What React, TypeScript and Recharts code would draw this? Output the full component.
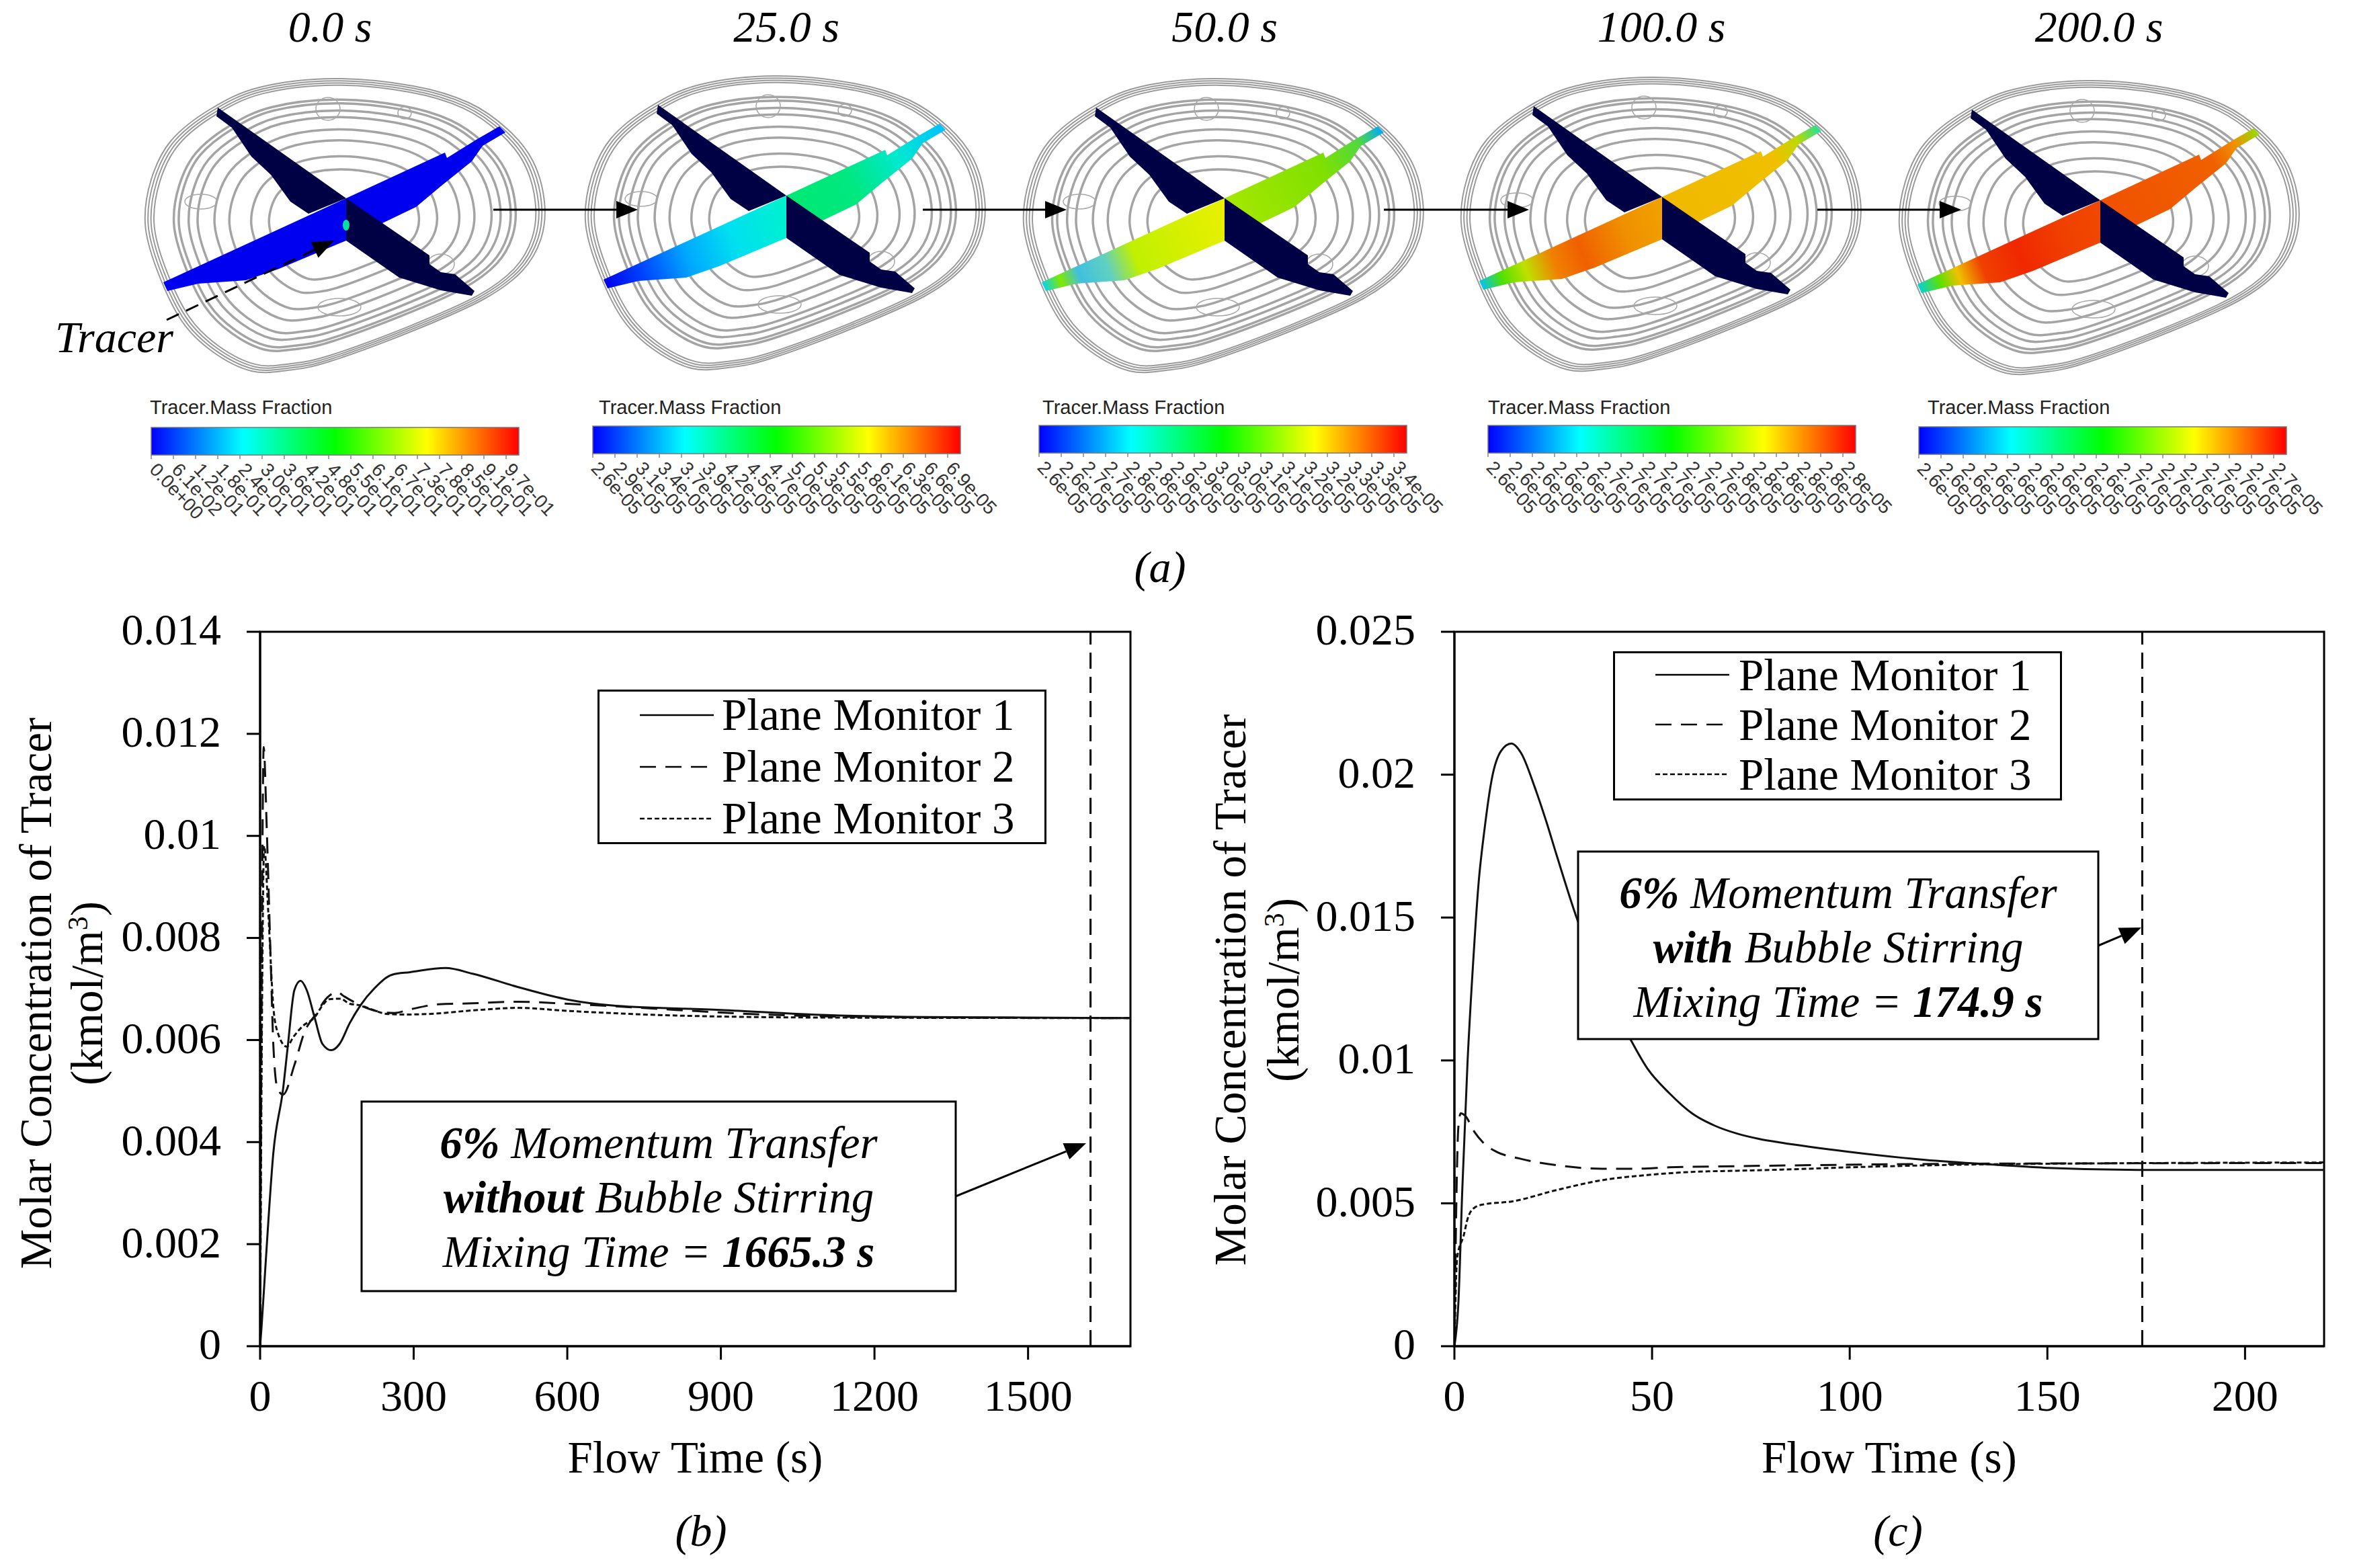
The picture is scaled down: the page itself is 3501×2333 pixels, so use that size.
import { LineChart, Line, XAxis, YAxis, ReferenceLine, ReferenceArea, Legend } from 'recharts';

const SERIF = '"Liberation Serif", "Times New Roman", serif';
const SANS = '"Liberation Sans", Arial, sans-serif';

// chart (b): no bubble stirring
const bTime1 = [0, 3, 10, 26, 45, 54, 67, 79, 91, 107, 122, 139, 155, 175, 196, 223, 258, 293, 362, 415, 503, 602, 695, 900, 1106, 1300, 1700];
const bConc1 = [0, 0.0004, 0.0015, 0.0038, 0.00505, 0.00587, 0.00698, 0.00716, 0.00698, 0.00642, 0.00592, 0.0058, 0.00592, 0.00633, 0.00668, 0.00701, 0.00728, 0.00733, 0.00741, 0.0073, 0.00704, 0.00679, 0.00667, 0.00659, 0.00649, 0.00645, 0.00643];
const bTime2 = [0, 3, 7, 13, 21, 26, 34, 45, 67, 87, 109, 131, 150, 165, 196, 231, 262, 293, 349, 415, 503, 602, 812, 959, 1200, 1700];
const bConc2 = [0, 0.007, 0.01174, 0.01014, 0.00745, 0.00587, 0.00505, 0.00493, 0.00551, 0.00616, 0.00651, 0.00683, 0.00694, 0.00685, 0.00668, 0.00656, 0.00653, 0.0066, 0.0067, 0.00672, 0.00675, 0.00671, 0.00659, 0.00651, 0.00645, 0.00643];
const bTime3 = [0, 3, 8, 16, 26, 34, 52, 65, 83, 107, 122, 135, 157, 175, 196, 218, 249, 284, 328, 415, 503, 602, 812, 1106, 1700];
const bConc3 = [0, 0.0055, 0.0098, 0.0085, 0.00663, 0.00616, 0.00587, 0.00606, 0.00627, 0.00645, 0.00668, 0.0068, 0.00681, 0.00671, 0.00668, 0.0066, 0.00651, 0.0065, 0.00651, 0.00658, 0.00663, 0.00657, 0.00648, 0.00644, 0.00643];

// chart (c): with bubble stirring
const cTime1 = [0, 1, 2, 3.3, 4.7, 6.1, 7.6, 9.5, 11.8, 14.4, 16.9, 20.3, 23.2, 26, 31.1, 37.4, 44.8, 48.8, 54.4, 60.1, 65.8, 71.5, 77.2, 82.8, 99.4, 119, 138, 150, 173, 220];
const cConc1 = [0, 0.0015, 0.0055, 0.00988, 0.01334, 0.01618, 0.01807, 0.01988, 0.02083, 0.02109, 0.02075, 0.01957, 0.01838, 0.01712, 0.01492, 0.0128, 0.01067, 0.00972, 0.00885, 0.00815, 0.00772, 0.00744, 0.00725, 0.00712, 0.00681, 0.00652, 0.00634, 0.00624, 0.00617, 0.00617];
const cTime2 = [0, 0.45, 1, 1.6, 2.7, 5, 7.3, 10.7, 16.4, 26, 37.4, 46, 54.4, 71.5, 138, 220];
const cConc2 = [0, 0.0047, 0.00767, 0.00815, 0.00807, 0.00751, 0.00712, 0.0068, 0.00657, 0.00633, 0.00621, 0.00621, 0.00626, 0.0063, 0.00639, 0.00641];
const cTime3 = [0, 0.7, 2.4, 3.3, 5, 7.3, 14.7, 26, 37.4, 48.8, 60, 71.5, 82.8, 100, 138, 220];
const cConc3 = [0, 0.0031, 0.0039, 0.00444, 0.00484, 0.00496, 0.00507, 0.00547, 0.00581, 0.00599, 0.0061, 0.00614, 0.00618, 0.00626, 0.00637, 0.00643];

const bXTicks = [0, 300, 600, 900, 1200, 1500];
const bYTicks = [0, 0.002, 0.004, 0.006, 0.008, 0.01, 0.012, 0.014];
const cXTicks = [0, 50, 100, 150, 200];
const cYTicks = [0, 0.005, 0.01, 0.015, 0.02, 0.025];

const seriesNames = ['Plane Monitor 1', 'Plane Monitor 2', 'Plane Monitor 3'];
const seriesDash = ['', '24 14', '7 4'];

// top row
const snapshotTitles = ['0.0 s', '25.0 s', '50.0 s', '100.0 s', '200.0 s'];
const barLabels0 = ['0.0e+00', '6.1e-02', '1.2e-01', '1.8e-01', '2.4e-01', '3.0e-01', '3.6e-01', '4.2e-01', '4.8e-01', '5.5e-01', '6.1e-01', '6.7e-01', '7.3e-01', '7.8e-01', '8.5e-01', '9.1e-01', '9.7e-01'];
const barLabels1 = ['2.6e-05', '2.9e-05', '3.1e-05', '3.4e-05', '3.7e-05', '3.9e-05', '4.2e-05', '4.5e-05', '4.7e-05', '5.0e-05', '5.3e-05', '5.5e-05', '5.8e-05', '6.1e-05', '6.3e-05', '6.6e-05', '6.9e-05'];
const barLabels2 = ['2.6e-05', '2.6e-05', '2.7e-05', '2.7e-05', '2.8e-05', '2.8e-05', '2.9e-05', '2.9e-05', '3.0e-05', '3.0e-05', '3.1e-05', '3.1e-05', '3.2e-05', '3.2e-05', '3.3e-05', '3.3e-05', '3.4e-05'];
const barLabels3 = ['2.6e-05', '2.6e-05', '2.6e-05', '2.6e-05', '2.6e-05', '2.7e-05', '2.7e-05', '2.7e-05', '2.7e-05', '2.7e-05', '2.7e-05', '2.8e-05', '2.8e-05', '2.8e-05', '2.8e-05', '2.8e-05', '2.8e-05'];
const barLabels4 = ['2.6e-05', '2.6e-05', '2.6e-05', '2.6e-05', '2.6e-05', '2.6e-05', '2.6e-05', '2.6e-05', '2.6e-05', '2.7e-05', '2.7e-05', '2.7e-05', '2.7e-05', '2.7e-05', '2.7e-05', '2.7e-05', '2.7e-05'];
const barLabels = [barLabels0, barLabels1, barLabels2, barLabels3, barLabels4];

const vesselCentres = [[515, 295], [1170, 291], [1822, 295], [2473, 293], [3125, 298]];
const colourBars = [[225, 636, 223], [882, 634, 891], [1546, 633, 1551], [2214, 633, 2214], [2855, 635, 2868]];
const jet = ['#0000ff', '#00ffff', '#00ff00', '#ffff00', '#ff0000'];

type Stop = [number, string];
const leftWing: Stop[][] = [
  [[0, '#0000f0'], [1, '#0000f0']],
  [[0, '#0000e8'], [0.2, '#0040ff'], [0.45, '#00a8ff'], [0.7, '#00e0f0'], [1, '#00f0d0']],
  [[0, '#00d0ff'], [0.1, '#80e800'], [0.2, '#40c0e0'], [0.35, '#60d0c0'], [0.5, '#c0f000'], [1, '#e8f000']],
  [[0, '#00c0ff'], [0.12, '#50e000'], [0.25, '#c0e000'], [0.4, '#f08000'], [0.55, '#f06000'], [0.8, '#f09000'], [1, '#f0a000']],
  [[0, '#00d0e0'], [0.12, '#60e000'], [0.22, '#f0c000'], [0.35, '#f04000'], [0.55, '#f02800'], [0.8, '#f04000'], [1, '#f04800']],
];
const rightWing: Stop[][] = [
  [[0, '#0000f0'], [1, '#0000f0']],
  [[0, '#00e870'], [0.4, '#00e880'], [0.7, '#00e8d0'], [1, '#00c0ff']],
  [[0, '#a8e800'], [0.6, '#80e000'], [0.85, '#50d840'], [1, '#00a8ff']],
  [[0, '#f0b800'], [0.7, '#f0c000'], [0.85, '#c0d800'], [1, '#20e0a0']],
  [[0, '#f05000'], [0.7, '#f06000'], [0.85, '#f09000'], [1, '#90e000']],
];

// vessel outline, relative to where the two planes cross
const outline = [[-17, -178], [100, -167], [183, -142], [241, -102], [278, -55], [295, 5], [290, 60], [262, 108], [205, 150], [100, 197], [-25, 243], [-87, 256], [-141, 257], [-199, 228], [-245, 182], [-282, 105], [-299, 38], [-290, -28], [-261, -85], [-203, -132], [-129, -165]];
const ringScales = [1, 0.985, 0.97, 0.955, 0.855, 0.83, 0.78, 0.735, 0.65, 0.575, 0.465, 0.375];
const rightPoly = [[0, 0], [147, -68], [150, -60], [195, -88], [228, -107], [237, -98], [203, -78], [187, -55], [141, -18], [104, 13], [54, 37], [0, 63]];
const leftPoly = [[0, 0], [0, 63], [-100, 105], [-149, 122], [-220, 127], [-266, 138], [-272, 125]];
const darkUpper = [[-191, -135], [0, 0], [-56, 23], [-83, 5], [-112, -35], [-141, -62], [-170, -105], [-193, -122]];
const darkLower = [[0, 0], [54, 37], [124, 85], [124, 98], [141, 110], [162, 113], [191, 138], [187, 145], [141, 137], [79, 118], [0, 63]];
const ports = [[-27, -133, 18, 17], [87, -127, 10, 9], [-216, 5, 24, 11], [-10, 162, 32, 13], [141, 98, 20, 15]];

const toPoints = (times: number[], values: number[]) => times.map((t, i) => ({ t, c: values[i] }));
const polyStr = (pts: number[][]) => pts.map((p) => p.join(',')).join(' ');

const ringPath = (scale: number) => {
  const pts = outline.map(([x, y]) => [-4 + (x + 4) * scale, 38 + (y - 38) * scale]);
  const n = pts.length;
  let d = `M${pts[0][0]},${pts[0][1]}`;
  for (let i = 0; i < n; i++) {
    const p0 = pts[(i - 1 + n) % n];
    const p1 = pts[i];
    const p2 = pts[(i + 1) % n];
    const p3 = pts[(i + 2) % n];
    d += `C${p1[0] + (p2[0] - p0[0]) / 6},${p1[1] + (p2[1] - p0[1]) / 6} ${p2[0] - (p3[0] - p1[0]) / 6},${p2[1] - (p3[1] - p1[1]) / 6} ${p2[0]},${p2[1]}`;
  }
  return d + 'Z';
};

const Vessel = ({ index }: { index: number }) => {
  const [cx, cy] = vesselCentres[index];
  return (
    <g transform={`translate(${cx},${cy})`}>
      <defs>
        <linearGradient id={`left${index}`} gradientUnits="userSpaceOnUse" x1={-272} y1={130} x2={0} y2={30}>
          {leftWing[index].map(([o, c]) => <stop key={o} offset={o} stopColor={c} />)}
        </linearGradient>
        <linearGradient id={`right${index}`} gradientUnits="userSpaceOnUse" x1={0} y1={30} x2={237} y2={-100}>
          {rightWing[index].map(([o, c]) => <stop key={o} offset={o} stopColor={c} />)}
        </linearGradient>
      </defs>
      {ringScales.map((s, i) => (
        <path key={s} d={ringPath(s)} fill="none" stroke={i < 4 ? '#9a9a9a' : '#a4a4a4'} strokeWidth={i < 4 ? 2 : 3.5} />
      ))}
      {ports.map(([x, y, rx, ry]) => (
        <ellipse key={`${x}`} cx={x} cy={y} rx={rx} ry={ry} fill="none" stroke="#a8a8a8" strokeWidth={1.5} />
      ))}
      <polygon points={polyStr(rightPoly)} fill={`url(#right${index})`} />
      <polygon points={polyStr(leftPoly)} fill={`url(#left${index})`} />
      <polygon points={polyStr(darkUpper)} fill="#000045" />
      <polygon points={polyStr(darkLower)} fill="#000045" />
      {index === 0 && <ellipse cx={0} cy={40} rx={5} ry={8} fill="#00e0a0" />}
    </g>
  );
};

const ColourBar = ({ index }: { index: number }) => {
  const [x, y, titleX] = colourBars[index];
  const w = 547;
  return (
    <g>
      <defs>
        <linearGradient id={`jet${index}`}>
          {jet.map((c, i) => <stop key={c} offset={i / 4} stopColor={c} />)}
        </linearGradient>
      </defs>
      <text x={titleX} y={616} fontFamily={SANS} fontSize={29} fill="#222">Tracer.Mass Fraction</text>
      <rect x={x} y={y} width={w} height={41} fill={`url(#jet${index})`} />
      <rect x={x} y={y} width={w} height={41} fill="none" stroke="#777" strokeWidth={1.5} />
      {barLabels[index].map((label, i) => (
        <g key={i}>
          <line x1={x + i * 33} x2={x + i * 33} y1={y + 41} y2={y + 47} stroke="#888" strokeWidth={1.5} />
          <text transform={`translate(${x + i * 33 - 4},${y + 64}) rotate(47)`} fontFamily={SANS} fontSize={28} fill="#333">{label}</text>
        </g>
      ))}
    </g>
  );
};

const Arrow = ({ x1, y1, x2, y2, dash }: { x1: number; y1: number; x2: number; y2: number; dash?: string }) => {
  const a = Math.atan2(y2 - y1, x2 - x1);
  const size = 32;
  const wing = 13;
  const bx = x2 - size * Math.cos(a);
  const by = y2 - size * Math.sin(a);
  const pts = `${x2},${y2} ${bx - wing * Math.sin(a)},${by + wing * Math.cos(a)} ${bx + wing * Math.sin(a)},${by - wing * Math.cos(a)}`;
  return (
    <g>
      <line x1={x1} y1={y1} x2={bx} y2={by} stroke="#000" strokeWidth={3} strokeDasharray={dash} />
      <polygon points={pts} fill="#000" />
    </g>
  );
};

const MonitorLegend = ({ payload, sampleWidth, textGap, rowHeight, rowTop }: any) => (
  <div style={{ width: '100%', height: '100%', boxSizing: 'border-box', border: '3px solid #000', background: '#fff', fontFamily: SERIF, fontSize: 67, color: '#000', position: 'relative' }}>
    {(payload || []).map((entry: any, i: number) => (
      <div key={entry.value} style={{ position: 'absolute', left: 0, top: rowTop + i * rowHeight, height: rowHeight, display: 'flex', alignItems: 'center', whiteSpace: 'nowrap', paddingLeft: 60 }}>
        <svg width={sampleWidth} height={6} style={{ marginRight: textGap }}>
          <line x1={0} x2={sampleWidth} y1={3} y2={3} stroke="#000" strokeWidth={2.5} strokeDasharray={seriesDash[i]} />
        </svg>
        {entry.value}
      </div>
    ))}
  </div>
);

const SIZE = { fontFamily: SERIF, fontSize: 66, fill: '#000' };

const TracerChart = ({ left, width, plotLeft, plotRight, xMax, yMax, xTicks, yTicks, mixLine, series, legendBox, rowHeight, rowTop, textGap }: any) => (
  <div style={{ position: 'absolute', left, top: 880 }}>
    <LineChart width={width} height={1453} margin={{ top: 60, right: width - plotRight, left: 0, bottom: 0 }} style={{ fontFamily: SERIF }}>
      <XAxis
        type="number"
        dataKey="t"
        domain={[0, xMax]}
        ticks={xTicks}
        interval={0}
        allowDataOverflow
        height={330}
        tick={SIZE}
        tickSize={20}
        tickMargin={29}
        stroke="#000"
        strokeWidth={3}
        label={{ value: 'Flow Time (s)', position: 'insideTop', offset: 140, ...SIZE, fontSize: 67 }}
      />
      <YAxis
        type="number"
        domain={[0, yMax]}
        ticks={yTicks}
        interval={0}
        allowDataOverflow
        width={plotLeft}
        tick={{ ...SIZE, dy: -4 }}
        tickSize={20}
        tickMargin={38}
        stroke="#000"
        strokeWidth={3}
      />
      <ReferenceArea x1={0} x2={xMax} y1={0} y2={yMax} fill="none" stroke="#000" strokeWidth={3} ifOverflow="visible" />
      <ReferenceLine x={mixLine} stroke="#000" strokeWidth={3} strokeDasharray="24 12" />
      {series.map((points: any, i: number) => (
        <Line
          key={seriesNames[i]}
          data={points}
          dataKey="c"
          name={seriesNames[i]}
          type="monotone"
          stroke="#111"
          strokeWidth={3}
          strokeDasharray={seriesDash[i] || undefined}
          dot={false}
          isAnimationActive={false}
        />
      ))}
      <Legend
        layout="horizontal"
        verticalAlign="middle"
        wrapperStyle={{ position: 'absolute', ...legendBox }}
        content={(props: any) => <MonitorLegend payload={props.payload} sampleWidth={110} textGap={textGap} rowHeight={rowHeight} rowTop={rowTop} />}
      />
    </LineChart>
  </div>
);

const YTitle = ({ x1, x2, y }: { x1: number; x2: number; y: number }) => (
  <g fontFamily={SERIF} fontSize={67} fill="#000" textAnchor="middle">
    <text transform={`translate(${x1},${y}) rotate(-90)`}>Molar Concentration of Tracer</text>
    <text transform={`translate(${x2},${y}) rotate(-90)`}>
      (kmol/m<tspan dy={-22} fontSize={42}>3</tspan><tspan dy={22}>)</tspan>
    </text>
  </g>
);

const NoteBox = ({ x, y, w, h, lines }: { x: number; y: number; w: number; h: number; lines: [string, string, string][] }) => (
  <g>
    <rect x={x} y={y} width={w} height={h} fill="#fff" stroke="#000" strokeWidth={3} />
    {lines.map(([a, b, c], i) => (
      <text key={i} x={x + w / 2} y={y + 84 + i * 81} textAnchor="middle" fontFamily={SERIF} fontSize={67} fontStyle="italic" fill="#000">
        {a && <tspan fontWeight="bold">{a}</tspan>}
        {b && <tspan>{b}</tspan>}
        {c && <tspan fontWeight="bold">{c}</tspan>}
      </text>
    ))}
  </g>
);

export default function App() {
  return (
    <div style={{ position: 'absolute', left: 0, top: 0, width: 3501, height: 2333, background: '#fff', overflow: 'hidden' }}>
      <TracerChart
        left={0}
        width={1750}
        plotLeft={387}
        plotRight={1682}
        xMax={1700}
        yMax={0.014}
        xTicks={bXTicks}
        yTicks={bYTicks}
        mixLine={1622}
        series={[toPoints(bTime1, bConc1), toPoints(bTime2, bConc2), toPoints(bTime3, bConc3)]}
        legendBox={{ left: 889, top: 146, width: 668, height: 230 }}
        rowHeight={77}
        rowTop={-4}
        textGap={12}
      />
      <TracerChart
        left={1750}
        width={1751}
        plotLeft={414}
        plotRight={1708}
        xMax={220}
        yMax={0.025}
        xTicks={cXTicks}
        yTicks={cYTicks}
        mixLine={174}
        series={[toPoints(cTime1, cConc1), toPoints(cTime2, cConc2), toPoints(cTime3, cConc3)]}
        legendBox={{ left: 650, top: 89, width: 668, height: 222 }}
        rowHeight={74}
        rowTop={-5}
        textGap={14}
      />
      <svg width={3501} height={2333} style={{ position: 'absolute', left: 0, top: 0, pointerEvents: 'none' }}>
        {snapshotTitles.map((t, i) => (
          <text key={t} x={[491, 1170, 1822, 2472, 3123][i]} y={62} textAnchor="middle" fontFamily={SERIF} fontSize={66} fontStyle="italic">{t}</text>
        ))}
        {vesselCentres.map((_, i) => <Vessel key={i} index={i} />)}
        {colourBars.map((_, i) => <ColourBar key={i} index={i} />)}
        <Arrow x1={734} y1={312} x2={949} y2={312} />
        <Arrow x1={1373} y1={312} x2={1587} y2={312} />
        <Arrow x1={2059} y1={312} x2={2275} y2={312} />
        <Arrow x1={2704} y1={312} x2={2918} y2={312} />
        <Arrow x1={248} y1={476} x2={497} y2={358} dash="20 12" />
        <text x={82} y={524} fontFamily={SERIF} fontSize={66} fontStyle="italic">Tracer</text>
        <text x={1726} y={866} textAnchor="middle" fontFamily={SERIF} fontSize={66} fontStyle="italic">(a)</text>

        <YTitle x1={76} x2={152} y={1478} />
        <YTitle x1={1853} x2={1932} y={1473} />
        <NoteBox x={538} y={1639} w={884} h={282} lines={[['6%', ' Momentum Transfer', ''], ['without', ' Bubble Stirring', ''], ['', 'Mixing Time = ', '1665.3 s']]} />
        <Arrow x1={1422} y1={1780} x2={1616} y2={1701} />
        <NoteBox x={2348} y={1267} w={774} h={279} lines={[['6%', ' Momentum Transfer', ''], ['with', ' Bubble Stirring', ''], ['', 'Mixing Time = ', '174.9 s']]} />
        <Arrow x1={3122} y1={1407} x2={3186} y2={1380} />
        <text x={1043} y={2300} textAnchor="middle" fontFamily={SERIF} fontSize={66} fontStyle="italic">(b)</text>
        <text x={2824} y={2300} textAnchor="middle" fontFamily={SERIF} fontSize={66} fontStyle="italic">(c)</text>
      </svg>
    </div>
  );
}
